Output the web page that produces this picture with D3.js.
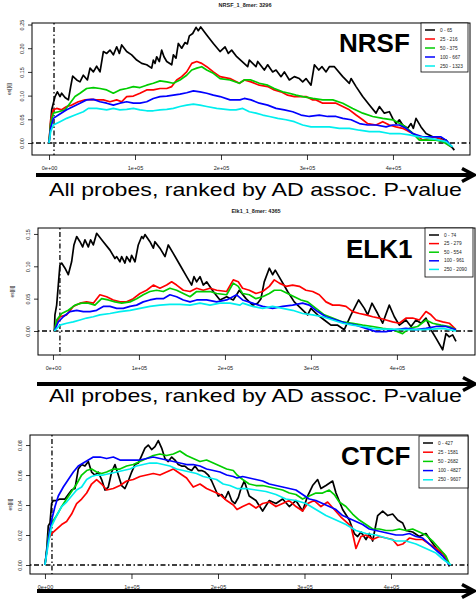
<!DOCTYPE html>
<html><head><meta charset="utf-8">
<script src="https://cdn.jsdelivr.net/npm/d3@7"></script>
<style>html,body{margin:0;padding:0;background:#fff;}svg{display:block;}</style>
</head><body>
<script>
// ---------------- DATA ----------------
const xTickValues = [0, 100000, 200000, 300000, 400000];
const nrsfYTicks = [0, 0.05, 0.10, 0.15, 0.20, 0.25];
const elk1YTicks = [0, 0.05, 0.10, 0.15];
const ctcfYTicks = [0, 0.02, 0.04, 0.06, 0.08];

const nrsfTitle = "NRSF_1_8mer: 3296";
const elk1Title = "Elk1_1_8mer: 4365";
const ctcfTitle = "";
const yAxisTitle = "es[[i]]";
const arrowText = "All probes, ranked by AD assoc. P-value";

const nrsfLegend = ["0 - 65", "25 - 216", "50 - 375", "100 - 667", "250 - 1323"];
const elk1Legend = ["0 - 74", "25 - 279", "50 - 554", "100 - 961", "250 - 2090"];
const ctcfLegend = ["0 - 427", "25 - 1581", "50 - 2682", "100 - 4827", "250 - 9607"];

const nrsfCut = 5800, elk1Cut = 8100, ctcfCut = 8100;

// NRSF series [rank, es]
const nrsfBlack = [[0,0],[3100,0.070],[7000,0.098],[9700,0.108],[12800,0.098],[14700,0.105],[18600,0.096],[22500,0.091],[25200,0.119],[27500,0.141],[32200,0.133],[36000,0.129],[39900,0.143],[44600,0.133],[47700,0.158],[51600,0.150],[55400,0.162],[59300,0.150],[63200,0.193],[67100,0.189],[70900,0.196],[74800,0.186],[78700,0.203],[81800,0.189],[84500,0.207],[90300,0.193],[96100,0.186],[102000,0.175],[107800,0.168],[113600,0.165],[119400,0.158],[121300,0.175],[123300,0.168],[125200,0.182],[128300,0.172],[131000,0.196],[133700,0.182],[136900,0.172],[142700,0.165],[144600,0.186],[147700,0.179],[150400,0.210],[154300,0.200],[158200,0.212],[160800,0.209],[163200,0.226],[167100,0.231],[171000,0.244],[173600,0.237],[176400,0.245],[183400,0.228],[191100,0.210],[198900,0.193],[204700,0.203],[208500,0.189],[212400,0.196],[218300,0.182],[231000,0.161],[233000,0.175],[240700,0.161],[242700,0.172],[250400,0.154],[254300,0.165],[260100,0.150],[264000,0.154],[269800,0.140],[273700,0.150],[279500,0.133],[285300,0.140],[291100,0.136],[295000,0.129],[298900,0.136],[304700,0.122],[308600,0.165],[313700,0.154],[317500,0.161],[322200,0.150],[326000,0.161],[331900,0.161],[341600,0.140],[349300,0.126],[351300,0.136],[357100,0.119],[364800,0.098],[372600,0.080],[380300,0.063],[384200,0.077],[390000,0.063],[395800,0.066],[399700,0.052],[403600,0.041],[407400,0.049],[411300,0.038],[417100,0.031],[421000,0.041],[423700,0.031],[426800,0.052],[432600,0.034],[438500,0.020],[446200,0.013],[453900,0.010],[461700,0.006],[471400,-0.015]];
const nrsfRed = [[0,0],[1900,0.049],[5000,0.070],[8900,0.073],[14700,0.070],[20500,0.077],[26400,0.080],[34100,0.087],[41900,0.091],[49600,0.092],[55400,0.091],[63200,0.091],[70900,0.087],[78700,0.091],[84500,0.087],[90300,0.098],[98100,0.099],[105800,0.105],[113600,0.112],[121300,0.112],[129100,0.115],[136900,0.115],[142700,0.119],[148500,0.133],[154300,0.140],[160100,0.150],[166000,0.168],[171800,0.172],[177600,0.168],[183400,0.161],[191100,0.150],[198900,0.140],[210500,0.136],[221400,0.126],[227100,0.133],[234900,0.129],[244600,0.122],[254300,0.119],[262000,0.112],[269800,0.108],[277600,0.101],[285300,0.098],[293100,0.098],[298900,0.098],[306700,0.091],[310500,0.091],[318300,0.084],[326000,0.084],[333800,0.084],[341600,0.077],[349300,0.070],[357100,0.059],[364800,0.049],[370600,0.041],[380300,0.038],[388100,0.045],[395800,0.038],[403600,0.034],[411300,0.031],[419000,0.024],[426800,0.017],[434500,0.006],[442300,0.010],[450000,0.013],[457800,0.006],[467500,-0.008]];
const nrsfGreen = [[0,0],[1900,0.041],[5000,0.063],[10900,0.066],[18600,0.070],[24400,0.084],[30200,0.098],[36000,0.105],[43700,0.115],[51600,0.117],[59300,0.115],[67100,0.112],[74800,0.105],[82400,0.112],[90300,0.115],[98100,0.119],[105800,0.117],[113600,0.122],[121300,0.126],[129100,0.131],[136900,0.129],[144600,0.126],[152300,0.133],[160100,0.143],[166000,0.154],[171800,0.158],[177600,0.161],[183400,0.154],[191100,0.147],[198900,0.136],[210500,0.133],[221400,0.126],[227100,0.133],[234900,0.133],[244600,0.126],[254300,0.122],[262000,0.115],[271700,0.108],[279500,0.105],[287300,0.101],[295000,0.098],[306700,0.094],[318300,0.091],[330000,0.091],[341600,0.084],[353200,0.073],[364800,0.063],[376400,0.056],[388100,0.052],[399700,0.049],[411300,0.038],[421000,0.024],[430700,0.006],[440400,0.006],[450000,0.006],[457800,0.003],[467500,-0.008]];
const nrsfBlue = [[0,0],[1900,0.031],[5000,0.052],[10900,0.059],[20500,0.070],[28300,0.077],[36000,0.084],[43700,0.091],[51600,0.092],[59300,0.087],[67100,0.084],[74800,0.080],[82400,0.084],[90300,0.087],[98100,0.084],[105800,0.084],[113600,0.087],[121300,0.094],[129100,0.098],[136900,0.099],[144600,0.101],[152300,0.103],[160100,0.106],[167900,0.110],[175600,0.108],[183400,0.105],[191100,0.101],[198900,0.098],[210500,0.091],[222100,0.091],[227100,0.094],[234900,0.091],[244600,0.084],[254300,0.080],[264000,0.073],[273700,0.070],[283400,0.066],[293100,0.059],[302800,0.056],[314400,0.059],[324100,0.056],[333800,0.056],[341600,0.052],[351300,0.049],[361000,0.041],[370600,0.038],[380300,0.038],[392000,0.034],[399700,0.038],[407400,0.038],[415200,0.031],[422900,0.020],[434500,0.013],[446200,0.013],[455900,0.013],[461700,0.006],[468700,-0.008]];
const nrsfCyan = [[0,0],[1900,0.024],[5000,0.038],[12800,0.045],[20500,0.052],[30200,0.059],[39900,0.066],[45700,0.073],[55400,0.073],[67100,0.070],[74800,0.073],[82400,0.070],[90300,0.071],[98100,0.073],[105800,0.070],[113600,0.068],[121300,0.068],[129100,0.070],[136900,0.071],[144600,0.073],[152300,0.077],[160100,0.080],[167900,0.082],[175600,0.080],[183400,0.077],[195000,0.073],[210500,0.070],[217500,0.070],[225300,0.073],[233000,0.066],[240700,0.063],[248500,0.059],[256300,0.056],[266000,0.052],[275700,0.049],[285300,0.045],[295000,0.038],[304700,0.034],[314400,0.034],[326000,0.034],[337600,0.031],[349300,0.031],[361000,0.027],[372600,0.024],[384200,0.024],[395800,0.020],[407400,0.020],[419000,0.017],[430700,0.013],[442300,0.010],[453900,0.006],[461700,0.003],[469500,-0.008]];

// ELK1 series
const elk1Black = [[1600,0],[2300,0.025],[4300,0.040],[6200,0.071],[8100,0.102],[10100,0.105],[14000,0.097],[17800,0.087],[21700,0.107],[24400,0.133],[27600,0.146],[31400,0.138],[34500,0.130],[37200,0.141],[41100,0.130],[43800,0.141],[46900,0.133],[50800,0.151],[58500,0.138],[66300,0.125],[72100,0.112],[74100,0.115],[77900,0.107],[79900,0.115],[83700,0.105],[85700,0.115],[89600,0.107],[91500,0.117],[95400,0.107],[99200,0.133],[103200,0.146],[105000,0.143],[107000,0.149],[112800,0.138],[116700,0.128],[118600,0.138],[124400,0.128],[130300,0.115],[134100,0.133],[139900,0.120],[147700,0.102],[155500,0.084],[161300,0.071],[164000,0.084],[167100,0.076],[171000,0.084],[174800,0.071],[178700,0.076],[186400,0.061],[194200,0.048],[202000,0.053],[209700,0.048],[213600,0.056],[216700,0.063],[224500,0.050],[232200,0.040],[238000,0.043],[241900,0.050],[245700,0.076],[251600,0.097],[255400,0.087],[258500,0.094],[265100,0.079],[272900,0.061],[280600,0.045],[288400,0.035],[296200,0.025],[300000,0.035],[307800,0.025],[315500,0.017],[323300,0.009],[331100,0.009],[338800,0.002],[346600,0.025],[355500,0.048],[362100,0.035],[366000,0.025],[371000,0.043],[377600,0.027],[383400,0.012],[391100,0.040],[397000,0.022],[402800,0.009],[410500,0.017],[416400,0.007],[422200,0.017],[428000,0.012],[433800,0.020],[439600,0.002],[445400,-0.011],[453200,-0.029],[457000,-0.004],[460900,-0.009],[464800,-0.006],[468700,-0.016]];
const elk1Red = [[1600,0],[4300,0.014],[8100,0.022],[15900,0.025],[23600,0.038],[31400,0.043],[39100,0.045],[46900,0.043],[54600,0.056],[62400,0.053],[70100,0.048],[77900,0.045],[85700,0.045],[93400,0.050],[101200,0.058],[108900,0.063],[116700,0.071],[124400,0.066],[132200,0.071],[138000,0.076],[143800,0.071],[151600,0.063],[159400,0.061],[167100,0.066],[174800,0.063],[182600,0.066],[190400,0.063],[202000,0.061],[209700,0.079],[215500,0.076],[220500,0.066],[228300,0.063],[236000,0.058],[243800,0.061],[251600,0.069],[257400,0.079],[263200,0.074],[271000,0.069],[278700,0.071],[286500,0.069],[294200,0.063],[302000,0.061],[309700,0.056],[317500,0.045],[325300,0.040],[333000,0.040],[340800,0.038],[348500,0.030],[356300,0.027],[364000,0.025],[371800,0.022],[379500,0.020],[387300,0.017],[395000,0.014],[402800,0.012],[410500,0.020],[418300,0.020],[426100,0.017],[433800,0.030],[439600,0.025],[445400,0.017],[453200,0.014],[460900,0.012],[468700,0.002]];
const elk1Green = [[1600,0],[4300,0.017],[10100,0.027],[17800,0.032],[25600,0.040],[33300,0.043],[41100,0.043],[48800,0.040],[56600,0.050],[64300,0.048],[72100,0.045],[79900,0.043],[89600,0.045],[97300,0.050],[105000,0.056],[112800,0.061],[120500,0.063],[128300,0.061],[136000,0.066],[143800,0.063],[151600,0.058],[159400,0.053],[167100,0.061],[174800,0.061],[182600,0.061],[190400,0.058],[202000,0.056],[209700,0.074],[215500,0.069],[220500,0.058],[228300,0.056],[236000,0.050],[243800,0.053],[251600,0.058],[257400,0.063],[265100,0.063],[272900,0.058],[280600,0.053],[288400,0.048],[296200,0.045],[305900,0.035],[315500,0.025],[325300,0.020],[336900,0.014],[348500,0.012],[360100,0.009],[371800,0.007],[383400,0.004],[395000,0.002],[406600,-0.004],[414400,0.004],[424100,0.007],[433800,0.017],[441500,0.012],[451300,0.009],[460900,0.007],[468700,0.002]];
const elk1Blue = [[1600,0],[6200,0.014],[12000,0.022],[19800,0.030],[27600,0.032],[35300,0.030],[43100,0.030],[50800,0.032],[58500,0.038],[66300,0.038],[74100,0.035],[81800,0.035],[89600,0.038],[97300,0.040],[105000,0.045],[112800,0.048],[120500,0.050],[128300,0.050],[136000,0.056],[143800,0.053],[151600,0.048],[159400,0.045],[167100,0.048],[178700,0.048],[190400,0.045],[202000,0.048],[213600,0.056],[220500,0.048],[232200,0.043],[243800,0.038],[255400,0.035],[267100,0.038],[278700,0.040],[290300,0.043],[298100,0.040],[307800,0.030],[317500,0.022],[329200,0.017],[340800,0.012],[352400,0.009],[364000,0.004],[375700,-0.001],[387300,-0.001],[398900,0.002],[410500,0.004],[422200,0.002],[433800,0.004],[445400,0.007],[457000,0.007],[468700,0.002]];
const elk1Cyan = [[1600,0],[8100,0.009],[15900,0.012],[23600,0.014],[31400,0.017],[39100,0.020],[46900,0.022],[54600,0.025],[66300,0.027],[77900,0.030],[89600,0.032],[101200,0.035],[112800,0.038],[124400,0.040],[136000,0.041],[147700,0.041],[159400,0.040],[171000,0.043],[182600,0.040],[194200,0.043],[205900,0.043],[217500,0.040],[220500,0.043],[232200,0.038],[243800,0.035],[255400,0.038],[267100,0.035],[278700,0.032],[290300,0.027],[302000,0.025],[313600,0.022],[325300,0.017],[336900,0.012],[348500,0.009],[360100,0.007],[371800,0.004],[383400,0.003],[395000,0.003],[406600,0.002],[418300,0.002],[429900,0.002],[441500,0.003],[453200,0.004],[468700,0]];

// CTCF series
const ctcfBlack = [[0,0],[2000,0.010],[3800,0.026],[5800,0.028],[7700,0.041],[9600,0.043],[13500,0.043],[17300,0.044],[23100,0.044],[26900,0.047],[30800,0.050],[34700,0.051],[38500,0.064],[42400,0.067],[46200,0.066],[50100,0.069],[53900,0.062],[57800,0.060],[61600,0.062],[65500,0.057],[69400,0.050],[73200,0.052],[77100,0.062],[80900,0.067],[84800,0.060],[88600,0.053],[92500,0.051],[96300,0.056],[100200,0.062],[104000,0.067],[107900,0.068],[111800,0.073],[115600,0.078],[119400,0.080],[123300,0.077],[127200,0.079],[131000,0.083],[134900,0.078],[138700,0.071],[142500,0.069],[146500,0.072],[150300,0.070],[154100,0.067],[158000,0.066],[161800,0.066],[165700,0.064],[169600,0.063],[173400,0.066],[177200,0.063],[181100,0.063],[185000,0.062],[188800,0.060],[192700,0.056],[196500,0.051],[200300,0.046],[204300,0.047],[208100,0.044],[211900,0.049],[215800,0.043],[219600,0.041],[223500,0.045],[226600,0.051],[230400,0.056],[236100,0.046],[243900,0.043],[251600,0.036],[259300,0.043],[267000,0.041],[274700,0.044],[282400,0.039],[290100,0.043],[297800,0.036],[303600,0.046],[309400,0.053],[315200,0.057],[319000,0.051],[324800,0.053],[332500,0.056],[336400,0.048],[344100,0.037],[351800,0.030],[357600,0.021],[361400,0.019],[365300,0.022],[371100,0.017],[374900,0.021],[378800,0.016],[384600,0.033],[390400,0.036],[396200,0.033],[401900,0.034],[407700,0.030],[413500,0.028],[417300,0.023],[425000,0.022],[432700,0.019],[440400,0.021],[446200,0.016],[453900,0.010],[461600,0.007],[467400,-0.001]];
const ctcfRed = [[0,0],[3800,0.017],[7700,0.021],[13500,0.024],[19300,0.027],[25000,0.029],[30800,0.034],[36600,0.041],[42400,0.044],[48200,0.048],[53900,0.054],[59700,0.057],[65500,0.054],[71300,0.050],[79000,0.051],[86700,0.053],[94400,0.056],[102100,0.057],[109800,0.059],[117500,0.060],[125200,0.061],[132900,0.060],[140600,0.062],[148400,0.064],[156000,0.061],[163700,0.058],[171400,0.052],[179200,0.054],[186800,0.051],[194600,0.049],[202300,0.047],[210000,0.043],[217700,0.040],[222000,0.037],[228500,0.039],[236100,0.041],[243900,0.038],[251600,0.041],[259300,0.042],[267000,0.039],[274700,0.041],[282400,0.043],[290100,0.039],[297800,0.036],[303600,0.041],[311300,0.043],[319000,0.039],[326700,0.042],[334400,0.037],[342100,0.032],[347900,0.029],[353700,0.026],[359500,0.011],[365300,0.019],[371100,0.020],[378800,0.017],[386500,0.019],[394200,0.018],[401900,0.017],[407700,0.013],[413500,0.014],[421200,0.018],[428900,0.017],[436600,0.017],[444300,0.014],[452000,0.011],[459700,0.008],[467400,0]];
const ctcfGreen = [[0,0],[3800,0.019],[7700,0.028],[13500,0.033],[19300,0.039],[25000,0.044],[30800,0.049],[36600,0.054],[42400,0.060],[48200,0.063],[53900,0.064],[59700,0.062],[65500,0.061],[71300,0.062],[79000,0.064],[86700,0.064],[94400,0.066],[102100,0.067],[109800,0.069],[117500,0.071],[125200,0.073],[132900,0.074],[140600,0.073],[148400,0.074],[156000,0.076],[163700,0.073],[171400,0.071],[179200,0.069],[186800,0.070],[194600,0.068],[202300,0.066],[210000,0.064],[217700,0.063],[222000,0.060],[228500,0.057],[236100,0.054],[243900,0.053],[251600,0.053],[259300,0.052],[267000,0.051],[274700,0.050],[282400,0.048],[290100,0.047],[297800,0.044],[305500,0.046],[313200,0.048],[320900,0.048],[328600,0.050],[334400,0.047],[340200,0.042],[347900,0.039],[355600,0.034],[363300,0.030],[371100,0.027],[378800,0.024],[386500,0.024],[394200,0.023],[401900,0.023],[409600,0.024],[417300,0.023],[425000,0.024],[432700,0.022],[440400,0.020],[448100,0.016],[455800,0.011],[463500,0.006],[468100,0]];
const ctcfBlue = [[0,0],[3800,0.017],[7700,0.030],[11600,0.039],[15400,0.046],[21200,0.052],[27000,0.057],[32800,0.062],[38500,0.066],[44300,0.068],[50100,0.070],[55900,0.072],[63600,0.072],[71300,0.071],[79000,0.072],[86700,0.070],[94400,0.070],[102100,0.070],[109800,0.070],[117500,0.071],[125200,0.072],[132900,0.071],[140600,0.070],[148400,0.069],[156000,0.068],[163700,0.067],[171400,0.067],[179200,0.066],[186800,0.064],[194600,0.063],[202300,0.062],[210000,0.060],[217700,0.059],[222000,0.058],[228500,0.059],[236100,0.058],[243900,0.057],[251600,0.056],[259300,0.054],[267000,0.053],[274700,0.052],[282400,0.051],[290100,0.050],[297800,0.047],[305500,0.044],[313200,0.043],[320900,0.041],[328600,0.039],[336400,0.037],[344100,0.033],[351800,0.031],[359500,0.029],[367200,0.027],[374900,0.024],[382600,0.023],[390300,0.022],[398000,0.021],[405700,0.020],[413500,0.020],[421200,0.021],[428900,0.019],[436600,0.018],[444300,0.014],[452000,0.010],[459700,0.006],[467400,0]];
const ctcfCyan = [[0,0],[3800,0.014],[7700,0.026],[13500,0.033],[19300,0.039],[25000,0.042],[30800,0.046],[36600,0.050],[42400,0.052],[48200,0.057],[53900,0.059],[59700,0.060],[67400,0.060],[75100,0.061],[82800,0.062],[90500,0.063],[98200,0.064],[105900,0.066],[113600,0.067],[121300,0.068],[129000,0.068],[136700,0.067],[144400,0.066],[152100,0.064],[159800,0.063],[167500,0.062],[175200,0.061],[182900,0.059],[190600,0.058],[198300,0.057],[206000,0.054],[213700,0.053],[222000,0.051],[232300,0.051],[243900,0.050],[255400,0.049],[267000,0.047],[278500,0.044],[290100,0.043],[301700,0.041],[313200,0.037],[324800,0.033],[336400,0.030],[347900,0.027],[359500,0.023],[371100,0.021],[382600,0.020],[394200,0.018],[405700,0.016],[417300,0.016],[428900,0.014],[440400,0.011],[452000,0.008],[459700,0.004],[469300,0]];

// ---------------- STYLE / LAYOUT ----------------
const W = 476, H = 604;
const seriesColors = ["#000000", "#ff0000", "#00cd00", "#0000ff", "#00eeee"];
const FONT = "'Liberation Sans', Arial, Helvetica, sans-serif";

const panels = [
  { title: nrsfTitle, titleX: 245, titleY: 7, label: "NRSF", labelX: 339, labelY: 52,
    series: [nrsfBlack, nrsfRed, nrsfGreen, nrsfBlue, nrsfCyan], legend: nrsfLegend, cut: nrsfCut,
    yTicks: nrsfYTicks, left: 32, right: 470, top: 23, bottom: 155,
    xDomain: [-19800, 489600], yDomain: [-0.0253, 0.2532],
    legendBox: [421, 23, 47, 49], legendY0: 30, legendDY: 9,
    arrowY: 175, arrowX1: 36, arrowX2: 474, textY: 195.5, yLabX: 9 },
  { title: elk1Title, titleX: 256, titleY: 213, label: "ELK1", labelX: 346, labelY: 258,
    series: [elk1Black, elk1Red, elk1Green, elk1Blue, elk1Cyan], legend: elk1Legend, cut: elk1Cut,
    yTicks: elk1YTicks, left: 38, right: 475, top: 228, bottom: 355,
    xDomain: [-17400, 490800], yDomain: [-0.0371, 0.1592],
    legendBox: [425, 228, 48, 49], legendY0: 235, legendDY: 8.6,
    arrowY: 384, arrowX1: 37, arrowX2: 475, textY: 401.5, yLabX: 12 },
  { title: ctcfTitle, titleX: 250, titleY: 420, label: "CTCF", labelX: 341, labelY: 465,
    series: [ctcfBlack, ctcfRed, ctcfGreen, ctcfBlue, ctcfCyan], legend: ctcfLegend, cut: ctcfCut,
    yTicks: ctcfYTicks, left: 30, right: 468, top: 435, bottom: 574,
    xDomain: [-17300, 489000], yDomain: [-0.006, 0.0867],
    legendBox: [419, 436, 49, 52], legendY0: 443, legendDY: 9.2,
    arrowY: 591, arrowX1: 37, arrowX2: 474, textY: null, yLabX: 10 }
];

const svg = d3.select("body").append("svg").attr("width", W).attr("height", H)
  .attr("font-family", FONT);

const fmtE = v => {
  if (v === 0) return "0e+00";
  const e = Math.floor(Math.log10(Math.abs(v)));
  const m = Math.round(v / Math.pow(10, e));
  return m + "e+" + String(e).padStart(2, "0");
};
const fmtY = d3.format(".2f");

panels.forEach((p, i) => {
  const x = d3.scaleLinear().domain(p.xDomain).range([p.left, p.right]);
  const y = d3.scaleLinear().domain(p.yDomain).range([p.bottom, p.top]);
  const g = svg.append("g");

  const clipId = "clip" + i;
  svg.append("clipPath").attr("id", clipId).append("rect")
    .attr("x", p.left).attr("y", p.top).attr("width", p.right - p.left).attr("height", p.bottom - p.top);

  if (p.title) {
    g.append("text").attr("x", p.titleX).attr("y", p.titleY).attr("text-anchor", "middle")
      .attr("font-size", 5.5).attr("font-weight", "bold").attr("fill", "#222").text(p.title);
  }

  const xa = g.append("g").attr("transform", `translate(0,${p.bottom})`)
    .call(d3.axisBottom(x).tickValues(xTickValues).tickSize(5).tickPadding(6).tickFormat(fmtE));
  xa.select(".domain").remove();
  xa.selectAll("line").attr("stroke", "#000").attr("stroke-width", 0.8);
  xa.selectAll("text").attr("font-size", 5.5).attr("font-family", FONT).attr("fill", "#222");

  const ya = g.append("g").attr("transform", `translate(${p.left},0)`)
    .call(d3.axisLeft(y).tickValues(p.yTicks).tickSize(4).tickFormat(fmtY));
  ya.select(".domain").remove();
  ya.selectAll("line").attr("stroke", "#000").attr("stroke-width", 0.8);
  ya.selectAll("text").attr("font-size", 5.5).attr("font-family", FONT).attr("fill", "#222")
    .attr("x", null).attr("dy", "0.35em").attr("text-anchor", "middle")
    .attr("transform", "translate(-10,0) rotate(-90)");

  g.append("text").attr("transform", `translate(${p.yLabX},${(p.top + p.bottom) / 2}) rotate(-90)`)
    .attr("text-anchor", "middle").attr("dy", "0.35em").attr("font-size", 5).attr("fill", "#222")
    .text(yAxisTitle);

  const plot = g.append("g").attr("clip-path", `url(#${clipId})`);

  plot.append("line").attr("x1", p.left).attr("x2", p.right).attr("y1", y(0)).attr("y2", y(0))
    .attr("stroke", "#000").attr("stroke-width", 1.3).attr("stroke-dasharray", "1.5,2.5,5,2.5");
  plot.append("line").attr("x1", x(p.cut)).attr("x2", x(p.cut)).attr("y1", p.top).attr("y2", p.bottom)
    .attr("stroke", "#000").attr("stroke-width", 1.3).attr("stroke-dasharray", "1.5,2.5,5,2.5");

  const line = d3.line().x(d => x(d[0])).y(d => y(d[1]));
  p.series.forEach((s, k) => {
    plot.append("path").datum(s).attr("d", line).attr("fill", "none")
      .attr("stroke", seriesColors[k]).attr("stroke-width", 1.7).attr("stroke-linejoin", "round");
  });

  g.append("rect").attr("x", p.left).attr("y", p.top).attr("width", p.right - p.left)
    .attr("height", p.bottom - p.top).attr("fill", "none").attr("stroke", "#000").attr("stroke-width", 1);

  g.append("text").attr("x", p.labelX).attr("y", p.labelY).attr("font-size", 26)
    .attr("font-weight", "bold").attr("fill", "#000").text(p.label);

  const [lx, ly, lw, lh] = p.legendBox;
  g.append("rect").attr("x", lx).attr("y", ly).attr("width", lw).attr("height", lh)
    .attr("fill", "#fff").attr("stroke", "#000").attr("stroke-width", 0.8);
  p.legend.forEach((t, k) => {
    const yy = p.legendY0 + k * p.legendDY;
    g.append("line").attr("x1", lx + 4).attr("x2", lx + 14).attr("y1", yy).attr("y2", yy)
      .attr("stroke", seriesColors[k]).attr("stroke-width", 1.5);
    g.append("text").attr("x", lx + 19).attr("y", yy).attr("dy", "0.35em").attr("font-size", 4.8)
      .attr("fill", "#222").text(t);
  });

  g.append("line").attr("x1", p.arrowX1).attr("x2", p.arrowX2 - 2).attr("y1", p.arrowY).attr("y2", p.arrowY)
    .attr("stroke", "#000").attr("stroke-width", 4);
  g.append("polyline")
    .attr("points", `${p.arrowX2 - 12},${p.arrowY - 6.5} ${p.arrowX2},${p.arrowY} ${p.arrowX2 - 12},${p.arrowY + 6.5}`)
    .attr("fill", "none").attr("stroke", "#000").attr("stroke-width", 3.5).attr("stroke-linejoin", "miter");

  if (p.textY !== null) {
    g.append("text").attr("x", 49).attr("y", p.textY).attr("font-size", 19)
      .attr("textLength", 413).attr("lengthAdjust", "spacingAndGlyphs").attr("fill", "#000")
      .text(arrowText);
  }
});
</script>
</body></html>
